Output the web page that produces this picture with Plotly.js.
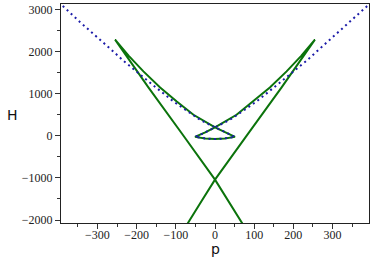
<!DOCTYPE html>
<html>
<head>
<meta charset="utf-8">
<script src="https://cdn.plot.ly/plotly-3.0.1.min.js"></script>
<style>html,body{margin:0;padding:0;background:#fff;}#chart{width:374px;height:259px;}</style>
</head>
<body>
<div id="chart"></div>
<script>
// Green curve (one continuous swallowtail-type curve)
var greenP = [75, 69, 35, 0, -85, -170, -255,
              -220, -182.7, -140, -97.6, -55, 0, 25, 51,
              25, 0, -25, -51,
              -25, 0, 55, 97.6, 140, 182.7, 220, 255,
              170, 85, 0, -35, -69, -75];
var greenH = [-2160, -2071, -1560, -1040, 60, 1150, 2285,
              1900, 1530, 1150, 817, 500, 200, 80, -25,
              -62, -78, -62, -25,
              80, 200, 500, 817, 1150, 1530, 1900, 2285,
              1150, 60, -1040, -1560, -2071, -2160];

// Blue dotted curve
var dotP = [-400, -387, -344, -293, -265, -234, -204, -170, -136, -106, -72, -38, -13, 0, 25, 51,
            25, 0, -25, -51,
            -25, 0, 13, 38, 72, 106, 136, 170, 204, 234, 265, 293, 344, 387, 400];
var dotH = [3160, 3071, 2698, 2286, 2048, 1786, 1548, 1293, 1040, 817, 595, 381, 262, 200, 80, -25,
            -62, -78, -62, -25,
            80, 200, 262, 381, 595, 817, 1040, 1293, 1548, 1786, 2048, 2286, 2698, 3071, 3160];

var xTicks = [-300, -200, -100, 0, 100, 200, 300];
var yTicks = [-2000, -1000, 0, 1000, 2000, 3000];

var traces = [
  {x: greenP, y: greenH, type: 'scatter', mode: 'lines',
   line: {color: '#0b730b', width: 2}, hoverinfo: 'skip'},
  {x: dotP, y: dotH, type: 'scatter', mode: 'lines',
   line: {color: '#1c1ca8', width: 2, dash: '2px,3.5px'}, hoverinfo: 'skip'}
];

var tickFont = {family: 'Liberation Serif, Times New Roman, serif', size: 12, color: '#222'};

var layout = {
  width: 374, height: 259,
  margin: {l: 61, r: 5, t: 4, b: 36, pad: 0},
  paper_bgcolor: '#fff', plot_bgcolor: '#fff',
  showlegend: false,
  xaxis: {
    range: [-393, 393], tickvals: xTicks, ticks: 'outside', ticklen: 5, tickwidth: 1, tickcolor: '#333',
    minor: {dtick: 50, ticks: 'outside', ticklen: 3, tickwidth: 1, tickcolor: '#333', showgrid: false},
    showline: true, linecolor: '#222', linewidth: 1, mirror: true,
    zeroline: false, showgrid: false, tickfont: tickFont, fixedrange: true,
    ticklabelstandoff: -4
  },
  yaxis: {
    range: [-2071, 3131], tickvals: yTicks, ticks: 'outside', ticklen: 5, tickwidth: 1, tickcolor: '#333',
    minor: {dtick: 500, ticks: 'outside', ticklen: 3, tickwidth: 1, tickcolor: '#333', showgrid: false},
    showline: true, linecolor: '#222', linewidth: 1, mirror: true,
    zeroline: false, showgrid: false, tickfont: tickFont, fixedrange: true
  },
  annotations: [
    {text: 'H', xref: 'paper', yref: 'paper', x: -0.157, y: 0.493, showarrow: false,
     xanchor: 'center', yanchor: 'middle', font: {family: 'DejaVu Sans, sans-serif', size: 14, color: '#111'}},
    {text: 'p', xref: 'paper', yref: 'paper', x: 0.5, y: -0.118, showarrow: false,
     xanchor: 'center', yanchor: 'middle', font: {family: 'DejaVu Sans, sans-serif', size: 14, color: '#111'}}
  ]
};

Plotly.newPlot('chart', traces, layout, {displayModeBar: false, staticPlot: true});
</script>
</body>
</html>
